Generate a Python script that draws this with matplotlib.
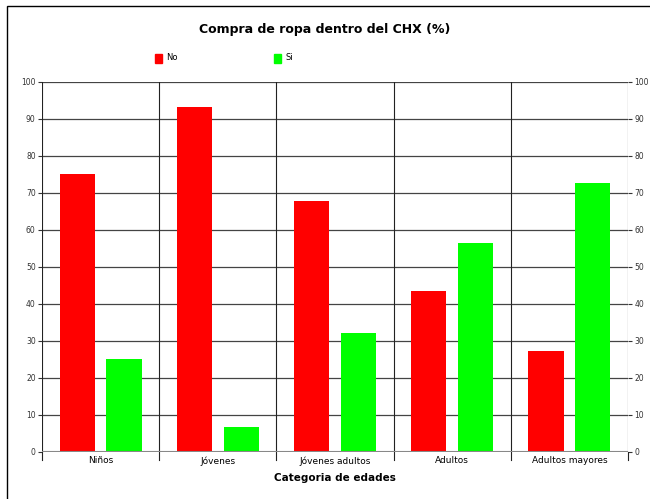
import matplotlib.pyplot as plt
import numpy as np
from matplotlib.patches import Rectangle

categorias = ['Niños', 'Jóvenes', 'Jóvenes adultos', 'Adultos', 'Adultos mayores']
no = [75.0, 93.3, 67.8, 43.5, 27.3]
si = [25.0, 6.7, 32.2, 56.5, 72.7]

fig = plt.figure(figsize=(6.5, 4.99), dpi=100)
ax = fig.add_axes([0.0646, 0.0942, 0.9015, 0.7415])

x = np.arange(len(categorias))
w = 0.3
ax.bar(x - 0.2, no, w, color='#ff0000', label='No', zorder=3)
ax.bar(x + 0.2, si, w, color='#00ff00', label='Si', zorder=3)

ax.set_xlim(-0.5, len(categorias) - 0.5)
ax.set_ylim(0, 100)
ax.set_yticks(range(0, 101, 10))
ax.tick_params(axis='y', labelsize=5.5, length=3, pad=1.5, colors='#333333',
               labelright=True, right=True)
ax.set_xticks(x)
ax.set_xticklabels(categorias, fontsize=6.5)
ax.tick_params(axis='x', length=0, pad=3)

# bordes de categoria
for b in np.arange(-0.5, len(categorias), 1.0):
    ax.axvline(b, color='#222222', lw=0.8, zorder=2)
    ax.plot([b, b], [0, -2.2], color='#222222', lw=0.8, clip_on=False)
ax.yaxis.grid(True, color='#444444', lw=0.9, zorder=1)
for s in ax.spines.values():
    s.set_visible(False)
ax.axhline(0, color='#888888', lw=1.5, zorder=4)

ax.set_xlabel('Categoria de edades', fontsize=7.5, fontweight='bold', labelpad=5)
fig.text(0.5, 0.94, 'Compra de ropa dentro del CHX (%)', ha='center', va='center',
         fontsize=9, fontweight='bold')

# leyenda
fig.patches.append(Rectangle((155 / 650, 1 - 63 / 499), 7 / 650, 9 / 499,
                             transform=fig.transFigure, color='#ff0000'))
fig.text(166 / 650, 1 - 58 / 499, 'No', fontsize=6, va='center')
fig.patches.append(Rectangle((274 / 650, 1 - 63 / 499), 7 / 650, 9 / 499,
                             transform=fig.transFigure, color='#00ff00'))
fig.text(285 / 650, 1 - 58 / 499, 'Si', fontsize=6, va='center')

# marco
fig.patches.append(Rectangle((7 / 650, -0.1), 1.2, 1 - 6 / 499 + 0.1,
                             transform=fig.transFigure, fill=False,
                             edgecolor='#000000', lw=1))

fig.savefig('out.png', dpi=100)
